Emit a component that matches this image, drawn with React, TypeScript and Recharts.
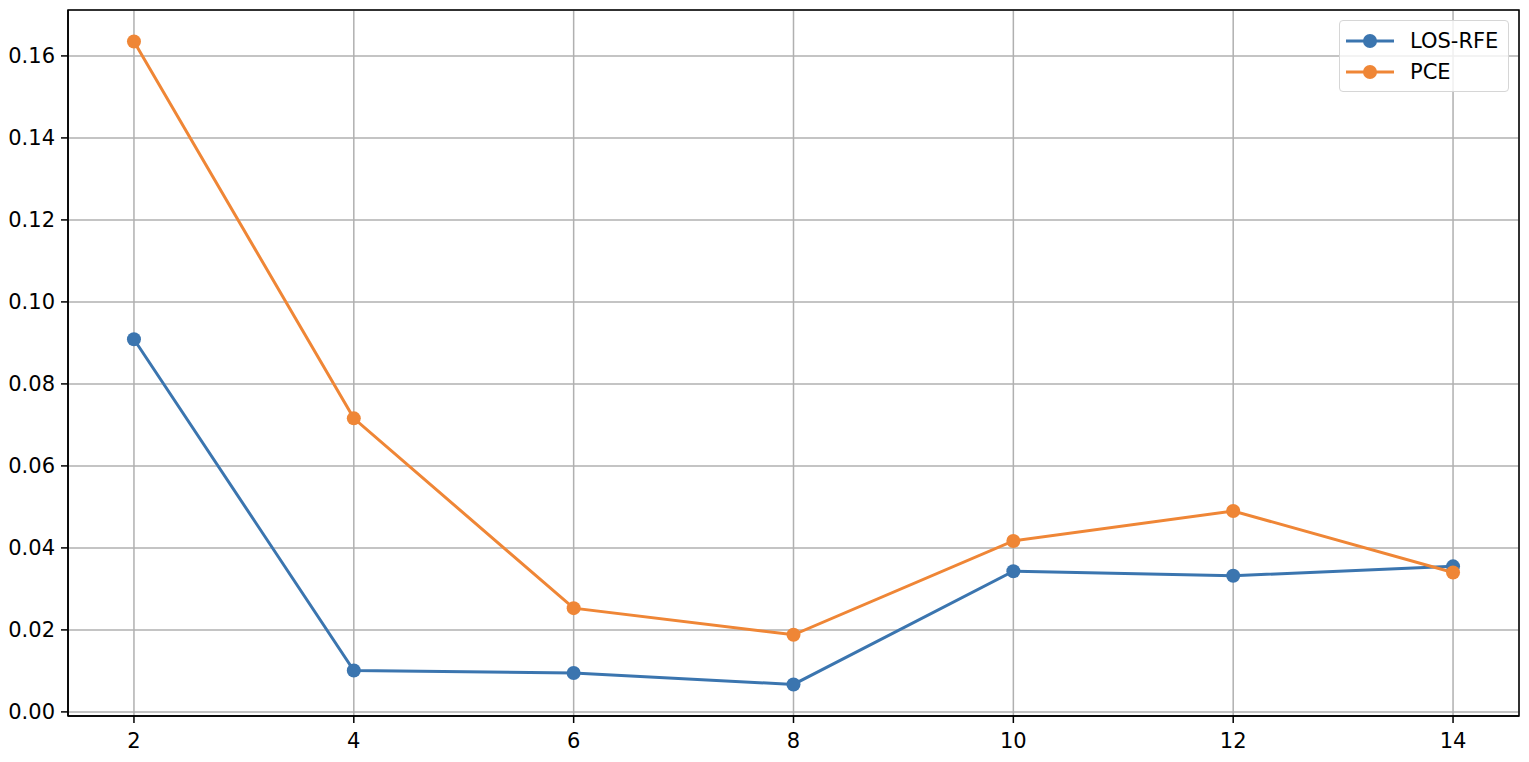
import React from "react";
import {
  LineChart,
  Line,
  XAxis,
  YAxis,
  CartesianGrid,
  ReferenceArea,
} from "recharts";

const steps = [2, 4, 6, 8, 10, 12, 14];
const losRfe = [0.0909, 0.0101, 0.0095, 0.0067, 0.0343, 0.0332, 0.0355];
const pce = [0.1635, 0.0716, 0.0253, 0.0188, 0.0417, 0.049, 0.034];
const xTicks = [2, 4, 6, 8, 10, 12, 14];
const yTicks = [0, 0.02, 0.04, 0.06, 0.08, 0.1, 0.12, 0.14, 0.16];

const BLUE = "#3b75af";
const ORANGE = "#ef8636";
const FONT = "DejaVu Sans, sans-serif";

const data = steps.map((s, i) => ({ x: s, los: losRfe[i], pce: pce[i] }));

const series = [
  { key: "los", name: "LOS-RFE", color: BLUE },
  { key: "pce", name: "PCE", color: ORANGE },
];

// legend drawn as an overlay so it does not eat plot space
const LegendBox = () => (
  <div
    style={{
      position: "absolute",
      left: 1339,
      top: 20,
      border: "1.5px solid #d6d6d6",
      borderRadius: 4,
      background: "rgba(255,255,255,0.8)",
      padding: "4px 10px 4px 6px",
      fontFamily: FONT,
      fontSize: 21,
      color: "#000",
    }}
  >
    {series.map((s) => (
      <div key={s.key} style={{ display: "flex", alignItems: "center", height: 31 }}>
        <svg width={48} height={16} style={{ marginRight: 16 }}>
          <line x1={0} y1={8} x2={48} y2={8} stroke={s.color} strokeWidth={3} />
          <circle cx={24} cy={8} r={7} fill={s.color} />
        </svg>
        <span>{s.name}</span>
      </div>
    ))}
  </div>
);

export default function App() {
  return (
    <div style={{ position: "absolute", left: 0, top: 0, width: 1529, height: 762, background: "#fff" }}>
      <LineChart
        width={1529}
        height={762}
        data={data}
        margin={{ top: 10, right: 10, left: 0, bottom: 0 }}
      >
        <CartesianGrid stroke="#b0b0b0" strokeWidth={1.5} />
        <XAxis
          dataKey="x"
          type="number"
          domain={[1.4, 14.6]}
          ticks={xTicks}
          height={46}
          axisLine={{ stroke: "#000", strokeWidth: 1.5 }}
          tickLine={{ stroke: "#000", strokeWidth: 1.5 }}
          tickSize={7}
          tick={{ fill: "#000", fontSize: 21, fontFamily: FONT }}
          tickMargin={10}
          allowDataOverflow
        />
        <YAxis
          type="number"
          domain={[-0.001, 0.1712]}
          ticks={yTicks}
          width={68}
          axisLine={{ stroke: "#000", strokeWidth: 1.5 }}
          tickLine={{ stroke: "#000", strokeWidth: 1.5 }}
          tickSize={7}
          tick={{ fill: "#000", fontSize: 21, fontFamily: FONT }}
          tickMargin={6}
          tickFormatter={(v: number) => v.toFixed(2)}
          allowDataOverflow
        />
        <ReferenceArea
          x1={1.4}
          x2={14.6}
          y1={-0.001}
          y2={0.1712}
          fill="none"
          stroke="#000"
          strokeWidth={1.5}
          ifOverflow="visible"
        />
        {series.map((s) => (
          <Line
            key={s.key}
            dataKey={s.key}
            name={s.name}
            stroke={s.color}
            strokeWidth={3}
            dot={{ r: 7, fill: s.color, stroke: "none" }}
            activeDot={false}
            isAnimationActive={false}
          />
        ))}
      </LineChart>
      <LegendBox />
    </div>
  );
}
